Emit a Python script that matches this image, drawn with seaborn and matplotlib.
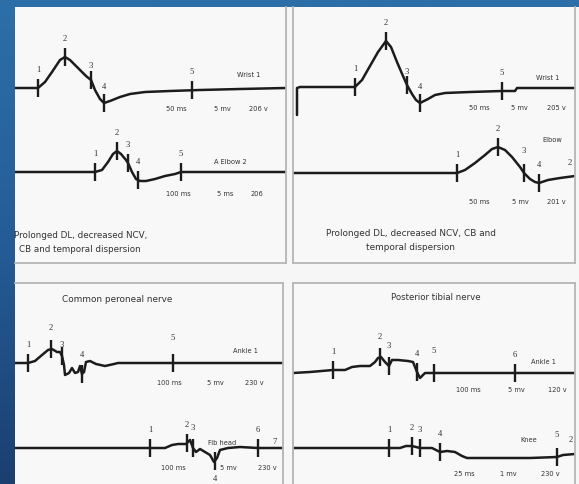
import numpy as np
import matplotlib.pyplot as plt
import seaborn as sns
from matplotlib.colors import LinearSegmentedColormap

sns.set_style("white")
plt.rcParams['font.family'] = ['DejaVu Sans']

W, H = 579, 484

# ---- median nerve, left panel (time in ms-ish units, amplitude upward) ----
lw1_t = [0, 23, 30, 37, 45, 50, 55, 63, 71, 76, 80, 85, 89, 95, 105, 115, 130, 155, 185, 225, 271]
lw1_v = [0, 0, 6, 16, 28, 31, 28, 20, 12, 8, -2, -11, -15, -13, -9, -6, -4, -3, -2, -1, 0]
lw1_marks = [23, 50, 76, 89, 177]

le2_t = [0, 80, 87, 93, 98, 102, 106, 111, 113, 117, 121, 125, 131, 140, 150, 160, 166, 185, 271]
le2_v = [0, 0, 2, 10, 18, 21, 18, 12, 9, 0, -7, -9, -9, -7, -4, -2, 0, 0, 0]
le2_marks = [80, 102, 113, 123, 166]

# ---- median nerve, right panel ----
rw1_t = [4, 4, 7, 62, 69, 77, 85, 93, 98, 104, 110, 114, 119, 123, 127, 135, 142, 152, 177, 209, 222, 224, 282]
rw1_v = [-28, -1, 0, 0, 7, 21, 35, 46, 40, 25, 11, 2, -7, -13, -16, -12, -8, -6, -5, -4, -4, -1, -1]
rw1_marks = [62, 93, 114, 127, 209]

rel_t = [0, 164, 172, 182, 192, 199, 205, 212, 219, 227, 231, 237, 242, 246, 255, 267, 282]
rel_v = [0, 0, 3, 10, 18, 24, 26, 23, 16, 6, 0, -6, -9, -10, -7, -5, -3]
rel_marks = [164, 205, 231, 246]

# ---- common peroneal nerve ----
pa1_t = [0, 13, 20, 27, 33, 37, 42, 45, 47, 49, 50, 54, 57, 60, 63, 65, 67, 69, 71, 75, 81, 90, 99, 103, 268]
pa1_v = [0, 0, 2, 8, 13, 14, 11, 11, 7, -2, -12, -10, -5, -10, -9, -3, -11, -9, 1, 2, -1, -3, -1, 0, 0]
pa1_marks = [13, 36, 47, 67, 158]

pfh_t = [0, 135, 150, 157, 163, 171, 175, 178, 181, 185, 190, 195, 199, 202, 205, 213, 225, 243, 255, 268]
pfh_v = [0, 0, 0, 3, 4, 4, 8, 0, -4, -1, -4, -7, -14, -10, -2, 0, 1, 0, 0, 0]
pfh_marks = [135, 172, 178, 200, 243]
pfh_names = ["1", "2", "3", "4", "6"]

# ---- posterior tibial nerve ----
ta1_t = [0, 17, 40, 52, 59, 67, 77, 82, 85, 88, 92, 96, 99, 105, 115, 120, 124, 127, 132, 139, 282]
ta1_v = [0, 1, 3, 3, 6, 7, 7, 11, 15, 16, 11, 7, 13, 13, 12, 11, 1, -5, 0, 0, 0]
ta1_marks = [40, 87, 96, 124, 141, 222]

tkn_t = [0, 96, 107, 113, 119, 123, 127, 132, 139, 143, 147, 154, 162, 169, 174, 187, 237, 264, 270, 282]
tkn_v = [0, 0, 0, 2, 2, 1, 0, 0, 0, -2, -4, -3, -4, -8, -10, -10, -10, -9, -7, -6]
tkn_marks = [96, 119, 127, 147, 264]

INK = "#1c1c1c"
TXT = "#333333"

fig = plt.figure(figsize=(W / 100, H / 100), dpi=100)

# blue backdrop
bg = fig.add_axes([0, 0, 1, 1])
blue = LinearSegmentedColormap.from_list("b", ["#2d6fa8", "#245d96", "#1b3f6f"])
bg.imshow(np.linspace(0, 1, 256).reshape(-1, 1), cmap=blue, aspect="auto", extent=[0, 1, 0, 1])
bg.set_axis_off()

paper = fig.add_axes([15 / W, 0, (W - 15) / W, (H - 7) / H])
paper.set_facecolor("#f6f6f6")
paper.set_xticks([]); paper.set_yticks([])
for s in paper.spines.values():
    s.set_visible(False)


def panel(l, t, r, b, sides):
    ax = fig.add_axes([l / W, 1 - b / H, (r - l) / W, (b - t) / H])
    ax.set_xlim(l, r)
    ax.set_ylim(b, t)
    ax.set_facecolor("#f8f8f8")
    ax.set_xticks([]); ax.set_yticks([])
    for name, s in ax.spines.items():
        s.set_visible(name in sides)
        s.set_color("#b5b5b5")
        s.set_linewidth(1.3)
    return ax


def trace(ax, left, base, t, v, marks, names=None, dy=None):
    x = np.array(t) + left
    y = base - np.array(v)
    sns.lineplot(x=x, y=y, ax=ax, color=INK, lw=1.8, sort=False, estimator=None)
    names = names or [str(i + 1) for i in range(len(marks))]
    dy = dy or {}
    for m, n in zip(marks, names):
        ym = base - np.interp(m, t, v)
        ax.vlines(left + m, ym - 9, ym + 9, color=INK, lw=1.7)
        ax.text(left + m, ym - dy.get(n, 18), n, ha="center", va="center",
                fontsize=6.2, color=TXT, family="Liberation Serif")


def txt(ax, x, y, s, size=4.8, ha="center"):
    ax.text(x, y, s, ha=ha, va="center", fontsize=size, color=TXT)


# panel 1
a1 = panel(15, 7, 286, 263, ["right", "bottom"])
trace(a1, 15, 88, lw1_t, lw1_v, lw1_marks, dy={"3": 14, "4": 16})
trace(a1, 15, 172, le2_t, le2_v, le2_marks, dy={"4": 18})
txt(a1, 249, 75, "Wrist 1")
txt(a1, 176, 109, "50 ms"); txt(a1, 222, 109, "5 mv"); txt(a1, 258, 109, "206 v")
txt(a1, 230, 162, "A Elbow 2")
txt(a1, 178, 194, "100 ms"); txt(a1, 225, 194, "5 ms"); txt(a1, 257, 194, "206")
txt(a1, 14, 236, "Prolonged DL, decreased NCV,", 6.3, "left")
txt(a1, 19, 249, "CB and temporal dispersion", 6.3, "left")

# panel 2
a2 = panel(293, 7, 575, 263, ["left", "right", "bottom"])
trace(a2, 293, 87, rw1_t, rw1_v, rw1_marks, dy={"3": 13, "4": 16})
trace(a2, 293, 173, rel_t, rel_v, rel_marks, dy={"3": 22})
txt(a2, 548, 78, "Wrist 1")
txt(a2, 479, 108, "50 ms"); txt(a2, 519, 108, "5 mv"); txt(a2, 556, 108, "205 v")
txt(a2, 552, 140, "Elbow")
a2.text(570, 163, "2", ha="center", va="center", fontsize=6.2, color=TXT, family="Liberation Serif")
txt(a2, 479, 202, "50 ms"); txt(a2, 520, 202, "5 mv"); txt(a2, 556, 202, "201 v")
txt(a2, 411, 233, "Prolonged DL, decreased NCV, CB and", 6.4)
txt(a2, 411, 248, "temporal dispersion", 6.4)

# panel 3
a3 = panel(15, 283, 283, 484, ["top", "right"])
txt(a3, 117, 299, "Common peroneal nerve", 6.4)
trace(a3, 15, 363, pa1_t, pa1_v, pa1_marks, dy={"2": 21, "3": 11, "4": 19, "5": 25})
txt(a3, 245, 351, "Ankle 1")
txt(a3, 169, 383, "100 ms"); txt(a3, 215, 383, "5 mv"); txt(a3, 254, 383, "230 v")
trace(a3, 15, 448, pfh_t, pfh_v, pfh_marks, pfh_names, dy={"4": -18, "2": 18, "3": 20})
a3.text(275, 442, "7", ha="center", va="center", fontsize=6.2, color=TXT, family="Liberation Serif")
txt(a3, 222, 443, "Fib head")
txt(a3, 173, 468, "100 ms"); txt(a3, 228, 468, "5 mv"); txt(a3, 267, 468, "230 v")

# panel 4
a4 = panel(293, 283, 575, 484, ["top", "left", "right"])
txt(a4, 436, 298, "Posterior tibial nerve", 6.2)
trace(a4, 293, 373, ta1_t, ta1_v, ta1_marks, dy={"2": 20, "3": 20, "5": 22})
txt(a4, 543, 362, "Ankle 1")
txt(a4, 468, 390, "100 ms"); txt(a4, 516, 390, "5 mv"); txt(a4, 557, 390, "120 v")
trace(a4, 293, 448, tkn_t, tkn_v, tkn_marks, dy={"5": 22})
a4.text(571, 440, "2", ha="center", va="center", fontsize=6.2, color=TXT, family="Liberation Serif")
txt(a4, 529, 440, "Knee")
txt(a4, 464, 474, "25 ms"); txt(a4, 508, 474, "1 mv"); txt(a4, 550, 474, "230 v")

fig.savefig("out.png", dpi=100)
